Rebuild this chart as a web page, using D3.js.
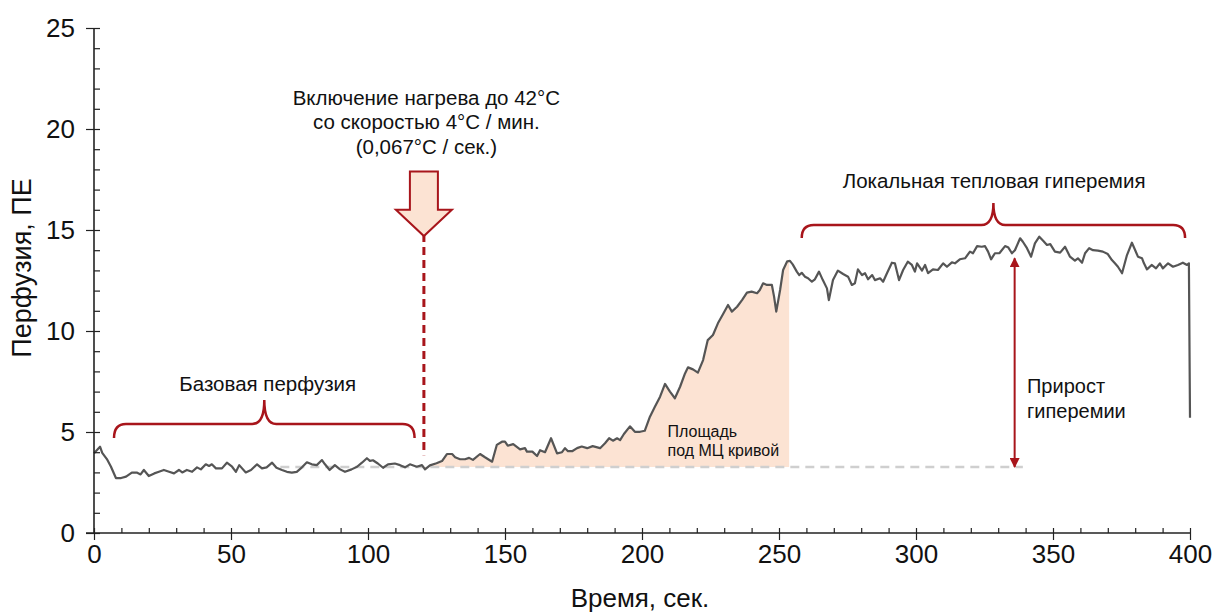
<!DOCTYPE html>
<html>
<head>
<meta charset="utf-8">
<script src="https://cdn.jsdelivr.net/npm/d3@7"></script>
<style>
  body { margin: 0; background: #fff; }
  svg { display: block; font-family: "Liberation Sans", Arial, sans-serif; }
</style>
</head>
<body>
<svg id="chart" width="1214" height="612"></svg>
<script>
// perfusion record (time in s, perfusion in PU)
const times = [0, 2.2, 3, 4.7, 6.2, 8, 9.9, 11.7, 13.8, 15.6, 17, 18.2, 20, 22, 23.7, 25.5, 27.4, 29.2, 31, 32.2,
  33.9, 35.8, 37.6, 39, 40.8, 42, 43, 44.5, 46.7, 48.5, 50.4, 51.8, 53, 55.4, 57.3, 59.5, 61.3, 63, 65, 66.6,
  68.6, 70.4, 72.2, 74, 75.9, 77.7, 79.5, 81.3, 83.2, 84.3, 86, 87.9, 89.8, 91.6, 94, 96, 97.8, 99.6, 100.7, 101.8,
  103.6, 105.5, 107.3, 109.8, 111.7, 113.5, 115.3, 117.8, 119.7, 120.8, 122.6, 125, 127, 128.8, 130.7, 131.8, 133.6, 135.4, 136.9, 138.3,
  140.9, 142.7, 145.3, 147, 148.9, 150, 151, 153, 155.5, 157.3, 158, 160, 161.7, 162.8, 164.6, 166.8, 169, 170.8, 171.9, 173,
  174.5, 176.3, 178, 180, 182, 184.7, 186.5, 188, 189.4, 190.9, 192, 193.4, 195.6, 197.4, 199.3, 201, 202.9, 204.7, 206.6, 208.4,
  210.2, 212, 213.9, 215.7, 216.8, 218.6, 220.4, 222.3, 224, 225.9, 227.7, 229.6, 231.4, 232.8, 234.7, 236.5, 238.3, 240, 242, 243,
  244.2, 245.6, 247.4, 248.2, 249, 250.4, 251.5, 253, 254, 255, 256.5, 257.4, 258.3, 259.5, 260.6, 262, 263.1, 264.6, 266, 267.5,
  268.2, 269.7, 271.5, 273.4, 275.2, 276.6, 277.7, 278.8, 280.3, 281.4, 282.5, 284, 285, 286.9, 288, 289.4, 291.2, 292.3, 293.8, 295.3,
  297, 298.5, 299.6, 300.4, 302.2, 303.3, 304.4, 306.2, 308, 309.9, 311.3, 313.1, 314.2, 316, 317.9, 319.7, 320.8, 322.3, 324, 325.2,
  326.3, 327.4, 328.8, 330.5, 332.5, 333.6, 335, 336.1, 338, 339, 340.5, 342, 343.4, 345, 346.4, 347.8, 349, 350.7, 352.6, 354.4,
  356.2, 358, 359.1, 360.6, 361.7, 363.2, 364.6, 366.4, 368.2, 370, 371.5, 372.6, 373.7, 375.2, 377, 378.8, 380, 381, 382.5, 383.2,
  384.3, 386, 387.6, 389, 390.1, 392, 393.8, 395.6, 397.4, 398.9, 399.6, 400];
const perfusion = [3.95, 4.27, 3.97, 3.66, 3.28, 2.72, 2.72, 2.79, 2.99, 2.99, 2.9, 3.12, 2.82, 2.95, 3.03, 3.12, 3.03, 2.95, 3.12, 3.0,
  3.12, 3.03, 3.25, 3.15, 3.4, 3.32, 3.4, 3.2, 3.2, 3.48, 3.28, 3.03, 3.36, 3.0, 3.12, 3.4, 3.2, 3.25, 3.48, 3.23,
  3.12, 3.03, 2.99, 3.03, 3.25, 3.5, 3.4, 3.36, 3.61, 3.4, 3.12, 3.36, 3.15, 3.03, 3.15, 3.28, 3.48, 3.7, 3.57, 3.6,
  3.44, 3.23, 3.4, 3.44, 3.36, 3.25, 3.4, 3.28, 3.36, 3.15, 3.35, 3.45, 3.56, 3.91, 3.91, 3.75, 3.65, 3.65, 3.72, 3.62,
  3.91, 3.75, 3.53, 4.36, 4.52, 4.52, 4.32, 4.4, 4.14, 4.2, 4.03, 4.03, 3.81, 4.1, 4.0, 4.69, 3.94, 4.0, 4.2, 4.05,
  4.05, 4.2, 4.28, 4.2, 4.3, 4.2, 4.44, 4.69, 4.57, 4.69, 4.6, 4.9, 5.28, 5.01, 5.01, 5.06, 5.76, 6.25, 6.75, 7.38,
  7.0, 6.67, 7.24, 7.9, 8.2, 8.1, 7.94, 8.56, 9.55, 9.8, 10.38, 10.84, 11.29, 10.96, 11.2, 11.53, 11.9, 11.95, 11.87, 12.03,
  12.36, 12.28, 12.28, 11.7, 10.96, 12.03, 13.02, 13.45, 13.47, 13.3, 12.94, 12.77, 12.88, 12.69, 12.61, 12.44, 12.56, 12.94, 12.52, 12.11,
  11.53, 12.52, 12.99, 12.82, 12.69, 12.28, 12.36, 13.05, 12.77, 12.86, 12.56, 12.77, 12.52, 12.61, 12.44, 12.86, 13.38, 13.35, 12.52, 13.02,
  13.43, 13.27, 12.94, 13.35, 12.99, 13.27, 12.86, 13.05, 13.02, 13.35, 13.18, 13.4, 13.35, 13.55, 13.6, 13.93, 13.85, 14.2, 14.17, 14.2,
  13.93, 13.55, 13.85, 13.86, 14.2, 14.15, 13.85, 14.0, 14.59, 14.42, 14.1, 13.68, 14.34, 14.67, 14.47, 14.26, 14.3, 13.93, 13.88, 14.17,
  13.68, 13.48, 13.6, 13.38, 13.85, 14.1, 14.0, 13.98, 13.93, 13.81, 13.51, 13.35, 13.18, 12.86, 13.76, 14.37, 14.0, 13.68, 13.6, 13.35,
  13.05, 13.27, 13.1, 13.35, 13.1, 13.35, 13.18, 13.27, 13.38, 13.27, 13.35, 5.7];

const xTicks = [0, 50, 100, 150, 200, 250, 300, 350, 400];
const yTicks = [0, 5, 10, 15, 20, 25];

const baseline = 3.27;          // baseline perfusion level
const heatOn = 120.4;           // heating switched on
const areaEnd = 253.7;          // end of shaded area
const baseRange = [7.3, 117];   // "Базовая перфузия" brace
const hypRange = [258.3, 398.2];// "Локальная тепловая гиперемия" brace
const gainAt = 336;             // hyperemia gain arrow
const gainTop = 13.6;

const red = '#a8151b';
const peach = '#fce3d3';

const svg = d3.select('#chart');
const margin = { top: 28, right: 24, bottom: 79, left: 94 };
const width = 1214 - margin.left - margin.right;
const height = 612 - margin.top - margin.bottom;

const x = d3.scaleLinear().domain([0, 400]).range([0, width]);
const y = d3.scaleLinear().domain([0, 25]).range([height, 0]);

const g = svg.append('g').attr('transform', `translate(${margin.left},${margin.top})`);

const data = times.map((t, i) => ({ t, v: perfusion[i] }));

function valueAt(t) {
  for (let i = 0; i < data.length - 1; i++) {
    if (t >= data[i].t && t <= data[i + 1].t) {
      const k = (t - data[i].t) / (data[i + 1].t - data[i].t);
      return data[i].v + k * (data[i + 1].v - data[i].v);
    }
  }
  return data[data.length - 1].v;
}

// shaded area under the curve
const areaData = [{ t: heatOn, v: valueAt(heatOn) }]
  .concat(data.filter(d => d.t > heatOn && d.t < areaEnd))
  .concat([{ t: areaEnd, v: valueAt(areaEnd) }]);

g.append('path')
  .datum(areaData)
  .attr('fill', peach)
  .attr('d', d3.area().x(d => x(d.t)).y0(y(baseline)).y1(d => y(d.v)));

// baseline dashed
g.append('line')
  .attr('x1', x(68)).attr('x2', x(339))
  .attr('y1', y(baseline)).attr('y2', y(baseline))
  .attr('stroke', '#cfcfcf').attr('stroke-width', 2.5)
  .attr('stroke-dasharray', '9,6');

// curve
g.append('path')
  .datum(data)
  .attr('fill', 'none')
  .attr('stroke', '#555')
  .attr('stroke-width', 2.2)
  .attr('stroke-linejoin', 'round')
  .attr('d', d3.line().x(d => x(d.t)).y(d => y(d.v)));

// axes
const yMinor = d3.axisRight(y).tickValues(d3.range(0, 26)).tickSize(6).tickFormat('');
const yMajor = d3.axisLeft(y).tickValues(yTicks).tickSize(8).tickPadding(11).tickFormat(d3.format('d'));
const xMinor = d3.axisTop(x).tickValues(d3.range(0, 401, 10)).tickSize(5).tickFormat('');
const xMajor = d3.axisBottom(x).tickValues(xTicks).tickSize(7).tickPadding(5).tickFormat(d3.format('d'));

[g.append('g').call(yMinor), g.append('g').call(yMajor),
 g.append('g').attr('transform', `translate(0,${height})`).call(xMinor),
 g.append('g').attr('transform', `translate(0,${height})`).call(xMajor)]
  .forEach(a => {
    a.select('.domain').remove();
    a.selectAll('line').attr('stroke', '#222').attr('stroke-width', 1.2);
    a.selectAll('text').attr('font-size', 26).attr('fill', '#111').style('font-family', '"Liberation Sans", Arial, sans-serif');
  });

g.append('line').attr('x1', 0).attr('x2', 0).attr('y1', 0).attr('y2', height)
  .attr('stroke', '#222').attr('stroke-width', 1.6);
g.append('line').attr('x1', -8).attr('x2', width).attr('y1', height).attr('y2', height)
  .attr('stroke', '#222').attr('stroke-width', 1.6);

svg.append('text')
  .attr('transform', `translate(22,268) rotate(-90)`)
  .attr('text-anchor', 'middle').attr('dy', '0.35em')
  .attr('font-size', 27).attr('fill', '#111')
  .text('Перфузия, ПЕ');

svg.append('text')
  .attr('x', margin.left + width / 2 - 2).attr('y', 607)
  .attr('text-anchor', 'middle')
  .attr('font-size', 26).attr('fill', '#111')
  .text('Время, сек.');

// curly braces
function brace(x1, x2, yh, r, drop, peak) {
  const xm = (x1 + x2) / 2;
  return `M${x1},${yh + drop} Q${x1},${yh} ${x1 + r},${yh} L${xm - r},${yh} ` +
    `Q${xm},${yh} ${xm},${yh - peak} Q${xm},${yh} ${xm + r},${yh} L${x2 - r},${yh} Q${x2},${yh} ${x2},${yh + drop}`;
}

g.append('path')
  .attr('d', brace(x(baseRange[0]), x(baseRange[1]), y(5.4), 12, 14, 24))
  .attr('fill', 'none').attr('stroke', red).attr('stroke-width', 2.5);
g.append('path')
  .attr('d', brace(x(hypRange[0]), x(hypRange[1]), y(15.25), 12, 13, 22))
  .attr('fill', 'none').attr('stroke', red).attr('stroke-width', 2.5);

// heat-on dashed marker and block arrow
const hx = x(heatOn);
g.append('line')
  .attr('x1', hx).attr('x2', hx)
  .attr('y1', y(14.8)).attr('y2', y(3.85))
  .attr('stroke', red).attr('stroke-width', 3)
  .attr('stroke-dasharray', '8,5');

const aTop = y(17.9), aShoulder = y(16.0), aTip = y(14.7);
g.append('path')
  .attr('d', `M${hx - 14},${aTop} L${hx + 14},${aTop} L${hx + 14},${aShoulder} L${hx + 28},${aShoulder} ` +
    `L${hx},${aTip} L${hx - 28},${aShoulder} L${hx - 14},${aShoulder} Z`)
  .attr('fill', peach).attr('stroke', red).attr('stroke-width', 2).attr('stroke-linejoin', 'miter');

// gain arrow
g.append('defs').append('marker')
  .attr('id', 'head').attr('viewBox', '0 0 10 10')
  .attr('refX', 9).attr('refY', 5)
  .attr('markerWidth', 5).attr('markerHeight', 5)
  .attr('orient', 'auto-start-reverse')
  .append('path').attr('d', 'M0,0 L10,5 L0,10 Z').attr('fill', red);

g.append('line')
  .attr('x1', x(gainAt)).attr('x2', x(gainAt))
  .attr('y1', y(gainTop)).attr('y2', y(baseline))
  .attr('stroke', red).attr('stroke-width', 2)
  .attr('marker-start', 'url(#head)').attr('marker-end', 'url(#head)');

// labels
function label(lines, tx, ty, size, anchor, lh) {
  const t = g.append('text')
    .attr('font-size', size).attr('fill', '#111')
    .attr('text-anchor', anchor);
  lines.forEach((s, i) => {
    t.append('tspan').attr('x', tx).attr('y', ty + i * lh).text(s);
  });
}

label(['Включение нагрева до 42°C', 'со скоростью 4°C / мин.', '(0,067°C / сек.)'],
  x(121.3), y(21.2), 20.5, 'middle', 24.5);
label(['Базовая перфузия'], x(63.4), y(7.05), 20.5, 'middle', 22);
label(['Локальная тепловая гиперемия'], x(328.5), y(17.1), 20.5, 'middle', 22);
label(['Площадь', 'под МЦ кривой'], x(209.3), y(4.75), 16, 'start', 18.5);
label(['Прирост', 'гиперемии'], x(340.5), y(6.95), 20, 'start', 25);
</script>
</body>
</html>
